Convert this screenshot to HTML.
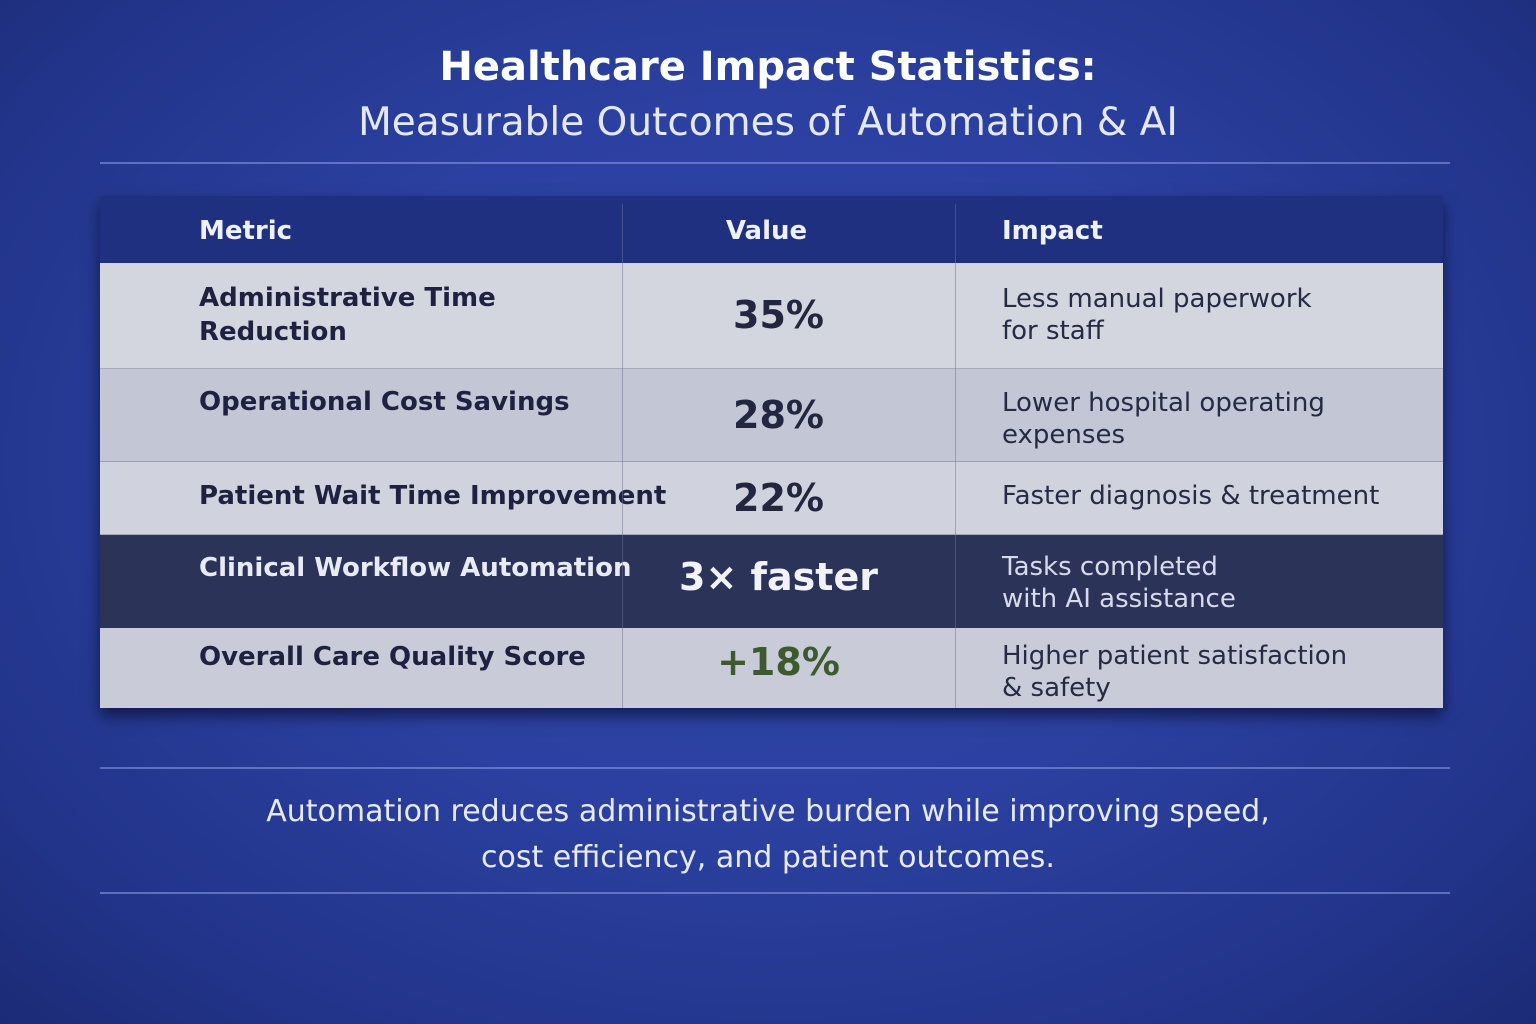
<!DOCTYPE html>
<html><head><meta charset="utf-8"><style>
html,body{margin:0;padding:0}
body{width:1536px;height:1024px;overflow:hidden;position:relative;font-family:"DejaVu Sans","Liberation Sans",sans-serif;
background:radial-gradient(ellipse at 50% 45%,#3047aa 0%,#2b40a0 45%,#22348a 80%,#1c2b76 100%);}
.t{position:absolute;left:0;width:1536px;text-align:center;color:#fff}
.hr{position:absolute;left:100px;width:1350px;height:2px;background:rgba(140,160,230,0.55)}
.tbl{position:absolute;left:100px;top:196px;width:1343px;height:512px;box-shadow:0 8px 14px rgba(0,0,20,0.55)}
.row{position:absolute;left:0;width:1343px;border-bottom:1px solid rgba(100,105,140,0.4)}
.c{position:absolute;color:#1e2240;font-weight:bold;font-size:26px;line-height:34px}
.v{position:absolute;left:512px;width:333px;text-align:center;font-weight:bold;font-size:38px;color:#22263f}
.i{position:absolute;left:902px;color:#252a45;font-size:26px;line-height:32px}
.vl{position:absolute;top:8px;width:1px;height:504px;background:rgba(110,115,150,0.5)}
</style></head><body>
<div class="t" style="top:44px;font-size:40px;font-weight:bold">Healthcare Impact Statistics:</div>
<div class="t" style="top:100px;font-size:39px;color:#e4e8f6">Measurable Outcomes of Automation &amp; AI</div>
<div class="hr" style="top:162px"></div>
<div class="tbl">
 <div class="row" style="top:0;height:67px;background:#1f3080;border:none">
  <div class="c" style="left:99px;top:18px;color:#eef0fa">Metric</div>
  <div class="c" style="left:500px;width:333px;text-align:center;top:18px;color:#eef0fa">Value</div>
  <div class="c" style="left:902px;top:18px;color:#eef0fa">Impact</div>
 </div>
 <div class="row" style="top:67px;height:105px;background:#d3d5df">
  <div class="c" style="left:99px;top:18px">Administrative Time<br>Reduction</div>
  <div class="v" style="top:30px">35%</div>
  <div class="i" style="top:20px">Less manual paperwork<br>for staff</div>
 </div>
 <div class="row" style="top:173px;height:92px;background:#c3c6d5">
  <div class="c" style="left:99px;top:16px">Operational Cost Savings</div>
  <div class="v" style="top:24px">28%</div>
  <div class="i" style="top:18px">Lower hospital operating<br>expenses</div>
 </div>
 <div class="row" style="top:266px;height:72px;background:#d0d2dd">
  <div class="c" style="left:99px;top:17px">Patient Wait Time Improvement</div>
  <div class="v" style="top:14px">22%</div>
  <div class="i" style="top:18px">Faster diagnosis &amp; treatment</div>
 </div>
 <div class="row" style="top:339px;height:93px;background:#2b3358">
  <div class="c" style="left:99px;top:16px;color:#e8eaf4">Clinical Workflow Automation</div>
  <div class="v" style="top:20px;color:#f2f3fa">3× faster</div>
  <div class="i" style="top:16px;color:#d8dbea">Tasks completed<br>with AI assistance</div>
 </div>
 <div class="row" style="top:432px;height:80px;background:#c9ccd8;border:none">
  <div class="c" style="left:99px;top:12px">Overall Care Quality Score</div>
  <div class="v" style="top:12px;color:#3d5a2e">+18%</div>
  <div class="i" style="top:12px">Higher patient satisfaction<br>&amp; safety</div>
 </div>
 <div class="vl" style="left:522px"></div>
 <div class="vl" style="left:855px"></div>
</div>
<div class="hr" style="top:767px"></div>
<div class="t" style="top:789px;font-size:30px;line-height:46px;color:#e6e9f6">Automation reduces administrative burden while improving speed,<br>cost efficiency, and patient outcomes.</div>
<div class="hr" style="top:892px"></div>
</body></html>
